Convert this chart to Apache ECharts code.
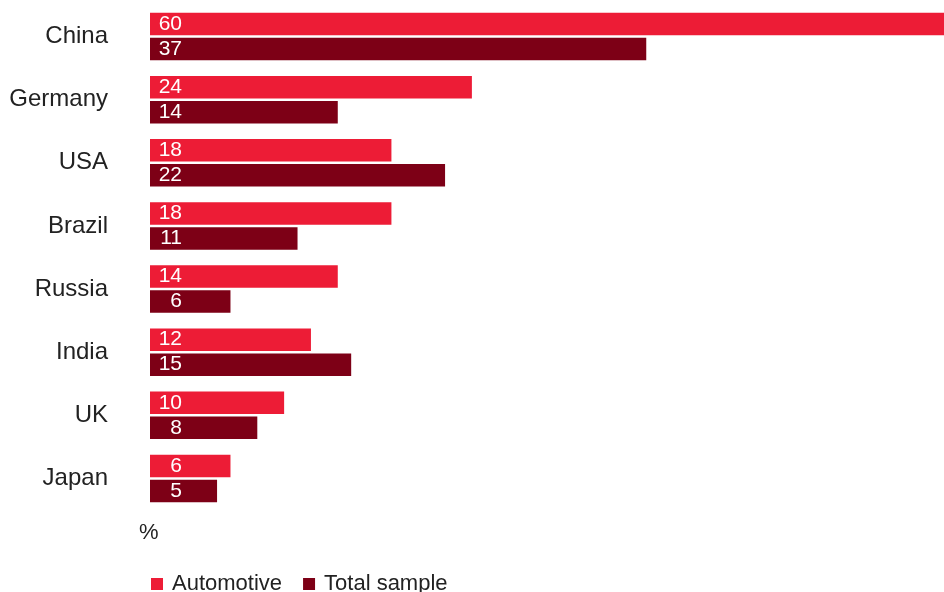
<!DOCTYPE html>
<html>
<head>
<meta charset="utf-8">
<script src="https://cdn.jsdelivr.net/npm/echarts@6/dist/echarts.min.js"></script>
<style>
    html, body { margin: 0; padding: 0; background: #fff; }
    #chart { width: 944px; height: 592px; }
</style>
</head>
<body>
<div id="chart"></div>
<script>
var countries = ['China', 'Germany', 'USA', 'Brazil', 'Russia', 'India', 'UK', 'Japan'];
var automotive = [60, 24, 18, 18, 14, 12, 10, 6];
var totalSample = [37, 14, 22, 11, 6, 15, 8, 5];
var seriesNames = ['Automotive', 'Total sample'];

var chart = echarts.init(document.getElementById('chart'));

var barLabel = {
    show: true,
    position: [32, '50%'],
    align: 'right',
    verticalAlign: 'middle',
    color: '#fff',
    fontSize: 21,
    fontFamily: 'Liberation Sans, Arial, sans-serif'
};

var option = {
    animation: false,
    textStyle: { fontFamily: 'Liberation Sans, Arial, sans-serif' },
    grid: {
        left: 150,
        right: 0,
        top: 5,
        bottom: 82
    },
    // the China bar runs off the right edge in the original, so the axis ends below 60
    xAxis: {
        type: 'value',
        min: 0,
        max: 59.2,
        show: false
    },
    yAxis: {
        type: 'category',
        inverse: true,
        data: countries,
        axisLine: { show: false },
        axisTick: { show: false },
        axisLabel: {
            margin: 42,
            fontSize: 24,
            color: '#222'
        }
    },
    legend: {
        left: 146,
        top: 568,
        icon: 'rect',
        itemWidth: 12,
        itemHeight: 12,
        itemGap: 21,
        textStyle: {
            fontSize: 22,
            color: '#222',
            padding: [4, 0, 0, 4]
        },
        data: seriesNames
    },
    graphic: [{
        type: 'text',
        left: 139,
        top: 522,
        style: {
            text: '%',
            fontSize: 22,
            fill: '#222',
            fontFamily: 'Liberation Sans, Arial, sans-serif'
        }
    }],
    series: [
        {
            name: seriesNames[0],
            type: 'bar',
            barWidth: 22.5,
            barGap: '11%',
            itemStyle: { color: '#ED1C36' },
            label: barLabel,
            data: automotive
        },
        {
            name: seriesNames[1],
            type: 'bar',
            barWidth: 22.5,
            barGap: '11%',
            itemStyle: { color: '#7D0016' },
            label: barLabel,
            data: totalSample
        }
    ]
};

chart.setOption(option);
</script>
</body>
</html>
